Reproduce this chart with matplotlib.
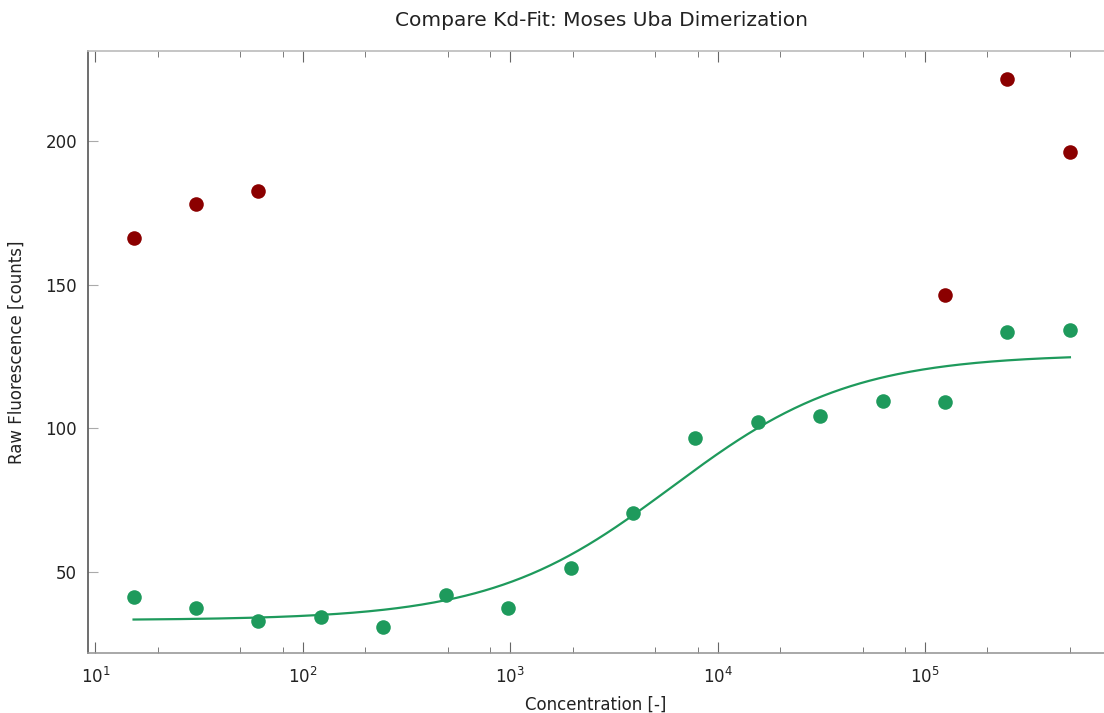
import numpy as np
import matplotlib
matplotlib.use("Agg")
import matplotlib.pyplot as plt
from matplotlib.ticker import LogLocator, NullFormatter

# concentrations of the dilution series
conc = [15.26, 30.52, 61.04, 122.1, 244.1, 488.3, 976.6, 1953.1,
        3906.3, 7812.5, 15625, 31250, 62500, 125000, 250000, 500000]
green_vals = [41.3, 37.5, 33.0, 34.3, 30.9, 42.0, 37.5, 51.4,
              70.5, 96.5, 102.1, 104.2, 109.4, 109.0, 133.5, 134.1]

red_conc = [15.26, 30.52, 61.04, 125000, 250000, 500000]
red_vals = [166.2, 178.1, 182.6, 146.4, 221.6, 196.2]

# fitted Kd model parameters
fit_bottom = 33.2
fit_top = 125.8
fit_kd = 6000.0

green = '#1e9a5c'
red = '#8b0000'

fig = plt.figure(figsize=(11.04, 7.13), dpi=100)
ax = fig.add_axes([0.0797, 0.0842, 0.9203, 0.8443])

xs = np.logspace(np.log10(conc[0]), np.log10(conc[-1]), 300)
ys = fit_bottom + (fit_top - fit_bottom) * xs / (fit_kd + xs)
ax.plot(xs, ys, color=green, lw=1.6, zorder=2)

ax.scatter(conc, green_vals, s=110, color=green, zorder=3, linewidths=0)
ax.scatter(red_conc, red_vals, s=110, color=red, zorder=3, linewidths=0)

ax.set_xscale('log')
ax.set_xlim(9.2, 7.3e5)
ax.set_ylim(21.8, 231.3)
ax.set_yticks([50, 100, 150, 200])
ax.xaxis.set_minor_locator(LogLocator(base=10, subs=(2, 5, 8)))
ax.xaxis.set_minor_formatter(NullFormatter())

ax.spines['right'].set_visible(False)
ax.spines['left'].set_color('#555555')
ax.spines['bottom'].set_color('#999999')
ax.spines['top'].set_color('#bbbbbb')
for s in ax.spines.values():
    s.set_linewidth(1.2)

ax.tick_params(axis='x', which='both', direction='in', top=True, bottom=True,
               colors='#666666', labelcolor='#222222', labelsize=12, pad=10)
ax.tick_params(axis='x', which='major', length=8)
ax.tick_params(axis='x', which='minor', length=4)
ax.tick_params(axis='y', which='major', direction='in', length=7, colors='#aaaaaa',
               labelcolor='#222222', labelsize=12, pad=8)

ax.set_xlabel('Concentration [-]', fontsize=12, color='#222222', labelpad=6)
ax.set_ylabel('Raw Fluorescence [counts]', fontsize=12, color='#222222', labelpad=14)
fig.suptitle('Compare Kd-Fit: Moses Uba Dimerization', fontsize=14.5, x=0.545, y=0.985,
             color='#222222')

fig.savefig('out.png', dpi=100)
